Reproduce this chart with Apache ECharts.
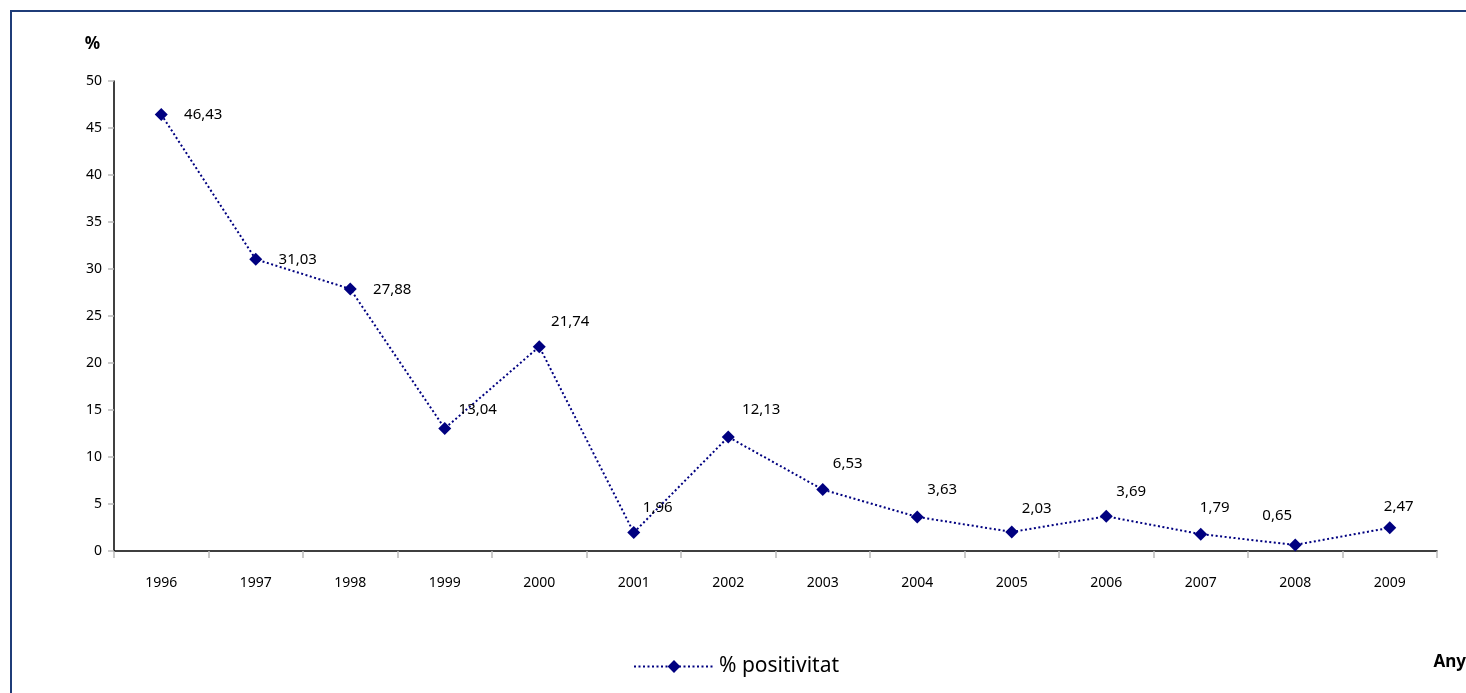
<!DOCTYPE html>
<html><head><meta charset="utf-8">
<script src="https://cdn.jsdelivr.net/npm/echarts@6/dist/echarts.min.js"></script>
<style>html,body{margin:0;padding:0;background:#fff}#c{width:1466px;height:693px}</style>
</head><body><div id="c"></div>
<script>
const years = ['1996','1997','1998','1999','2000','2001','2002','2003','2004','2005','2006','2007','2008','2009'];
const positivitat = [46.43, 31.03, 27.88, 13.04, 21.74, 1.96, 12.13, 6.53, 3.63, 2.03, 3.69, 1.79, 0.65, 2.47];
const yTicks = [0, 5, 10, 15, 20, 25, 30, 35, 40, 45, 50];
const seriesName = '% positivitat';

// label placement (styling, offsets from point in px)
const labelOffsets = [[42,0],[42,0],[42,1],[33,-19],[31,-25],[24,-25],[33,-27],[25,-26],[25,-27],[25,-23],[25,-25],[14,-26],[-18,-29],[9,-21]];
const FONT = 'Noto Sans';
const chart = echarts.init(document.getElementById('c'));
chart.setOption({
  animation: false,
  textStyle: {fontFamily: FONT},
  grid: {left: 114, right: 29, top: 81, bottom: 142, containLabel: false},
  graphic: [
    {type: 'rect', shape: {x: 11, y: 11, width: 1500, height: 750}, style: {fill: 'none', stroke: '#1F3C78', lineWidth: 2}, silent: true},
    {type: 'text', right: 0, top: 654, style: {text: 'Any', font: 'bold 17px "' + FONT + '"', fill: '#000'}}
  ],
  legend: {
    data: [seriesName], left: 628, top: 651, itemWidth: 80, itemHeight: 16, itemGap: 6,
    textStyle: {fontSize: 21, color: '#000', fontFamily: FONT}
  },
  xAxis: {
    type: 'category', data: years, boundaryGap: true,
    axisLine: {lineStyle: {color: '#000', width: 1.5}},
    axisTick: {show: true, length: 7, lineStyle: {color: '#bbb', width: 1.5}},
    axisLabel: {fontSize: 14, color: '#000', margin: 25}
  },
  yAxis: {
    type: 'value', min: 0, max: 50, interval: 5,
    axisLine: {show: true, lineStyle: {color: '#000', width: 1.5}},
    axisTick: {show: true, length: 6, lineStyle: {color: '#bbb', width: 1.5}},
    splitLine: {show: false},
    axisLabel: {fontSize: 14, color: '#000', margin: 12, formatter: v => yTicks.includes(v) ? String(v) : ''},
    name: '%', nameLocation: 'end', nameGap: 28,
    nameTextStyle: {fontSize: 17, fontWeight: 'bold', color: '#000', align: 'right', padding: [0, 14, 0, 0]}
  },
  series: [{
    name: seriesName, type: 'line', symbol: 'diamond', symbolSize: 13,
    itemStyle: {color: '#000080'},
    lineStyle: {color: '#000080', width: 2, type: [2, 2.5]},
    data: positivitat.map((v, i) => ({
      value: v,
      label: {show: true, position: 'inside', offset: labelOffsets[i], fontSize: 15, color: '#000',
        formatter: p => p.value.toFixed(2).replace('.', ',')}
    }))
  }]
});
</script></body></html>
